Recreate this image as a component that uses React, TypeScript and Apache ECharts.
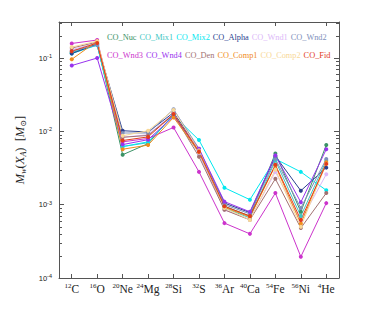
import React, { useEffect, useRef } from "react";
import * as echarts from "echarts";

const categories = ["12C", "16O", "20Ne", "24Mg", "28Si", "32S", "36Ar", "40Ca", "54Fe", "56Ni", "4He"];

const seriesNames = ["CO_Nuc", "CO_Mix1", "CO_Mix2", "CO_Alpha", "CO_Wnd1", "CO_Wnd2", "CO_Wnd3", "CO_Wnd4", "CO_Den", "CO_Comp1", "CO_Comp2", "CO_Fid"];
const seriesColors = ["#3a9366", "#3fc7c4", "#00e8f0", "#2b3f8f", "#dcb8f8", "#8090bb", "#cc33cc", "#9933ee", "#a27272", "#f08c1c", "#f8d898", "#e23c1c"];

const nuc = [0.118, 0.155, 0.0048, 0.0068, 0.017, 0.0052, 0.00095, 0.0007, 0.005, 0.0008, 0.0065];
const mix1 = [0.12, 0.15, 0.0062, 0.007, 0.017, 0.005, 0.0009, 0.00066, 0.004, 0.0007, 0.004];
const mix2 = [0.115, 0.15, 0.0062, 0.0072, 0.0165, 0.0076, 0.0017, 0.00117, 0.0042, 0.0028, 0.00157];
const alpha = [0.115, 0.155, 0.0102, 0.0098, 0.018, 0.0056, 0.00105, 0.00078, 0.0046, 0.00155, 0.0032];
const wnd1 = [0.13, 0.16, 0.0083, 0.009, 0.0175, 0.005, 0.00085, 0.00063, 0.0028, 0.0006, 0.0026];
const wnd2 = [0.125, 0.15, 0.0095, 0.0095, 0.02, 0.0058, 0.001, 0.00075, 0.0042, 0.0009, 0.0042];
const wnd3 = [0.158, 0.176, 0.0072, 0.008, 0.0113, 0.0028, 0.00056, 0.0004, 0.00144, 0.000195, 0.00105];
const wnd4 = [0.079, 0.1, 0.0066, 0.0077, 0.016, 0.0058, 0.0011, 0.0008, 0.0047, 0.00108, 0.0057];
const den = [0.137, 0.165, 0.0083, 0.0088, 0.017, 0.0045, 0.00085, 0.00062, 0.00225, 0.00048, 0.00144];
const comp1 = [0.096, 0.17, 0.0057, 0.0065, 0.0155, 0.0052, 0.00092, 0.00068, 0.0034, 0.00055, 0.0038];
const comp2 = [0.141, 0.17, 0.0087, 0.0102, 0.0195, 0.0055, 0.0009, 0.00062, 0.003, 0.0005, 0.0036];
const fid = [0.124, 0.16, 0.0075, 0.0084, 0.0172, 0.0053, 0.00095, 0.0007, 0.0035, 0.00062, 0.0036];

const seriesValues = [nuc, mix1, mix2, alpha, wnd1, wnd2, wnd3, wnd4, den, comp1, comp2, fid];

const yMin = 1e-4;
const yMax = 0.31;
const minorTickValues = [
  2e-4, 3e-4, 4e-4, 5e-4, 6e-4, 7e-4, 8e-4, 9e-4,
  2e-3, 3e-3, 4e-3, 5e-3, 6e-3, 7e-3, 8e-3, 9e-3,
  2e-2, 3e-2, 4e-2, 5e-2, 6e-2, 7e-2, 8e-2, 9e-2,
  2e-1, 3e-1,
];

const AXIS_COLOR = "#555";
const SERIF = "'Liberation Serif', 'DejaVu Serif', serif";
const SANS = "'Liberation Sans', 'DejaVu Sans', sans-serif";

export default function App() {
  const ref = useRef<HTMLDivElement>(null);
  useEffect(() => {
    if (!ref.current) return;
    const chart = echarts.init(ref.current, undefined, { renderer: "svg" });

    const legendItem = (i: number) => ({
      name: seriesNames[i],
      textStyle: { color: seriesColors[i] },
    });

    const lineSeries = seriesNames.map((name, i) => ({
      name,
      type: "line",
      data: seriesValues[i],
      symbol: "circle",
      symbolSize: 4,
      showSymbol: true,
      lineStyle: { width: 1, color: seriesColors[i] },
      itemStyle: { color: seriesColors[i] },
      z: 3,
    }));

    const legendBase = {
      left: 101,
      padding: 0,
      itemWidth: 0,
      itemHeight: 0,
      itemGap: -3,
      selectedMode: false,
      textStyle: { fontFamily: SERIF, fontSize: 8.3 },
    };

    const option: any = {
      animation: false,
      grid: { left: 59, right: 35, top: 22, bottom: 35 },
      legend: [
        { ...legendBase, data: [0, 1, 2, 3, 4, 5].map(legendItem), top: 33 },
        { ...legendBase, data: [6, 7, 8, 9, 10, 11].map(legendItem), top: 51 },
      ],
      xAxis: [
        {
          type: "category",
          data: categories,
          boundaryGap: true,
          axisLine: { show: true, lineStyle: { color: AXIS_COLOR, width: 1 } },
          axisTick: { show: true, inside: true, alignWithLabel: true, length: 4, lineStyle: { color: AXIS_COLOR } },
          axisLabel: {
            margin: 4,
            interval: 0,
            formatter: (v: string) => {
              const m = v.match(/^(\d+)(\D+)$/);
              return m ? `{sup|${m[1]}}{el|${m[2]}}` : v;
            },
            rich: {
              sup: { fontFamily: SERIF, fontSize: 7, color: "#222", verticalAlign: "top", lineHeight: 13 },
              el: { fontFamily: SERIF, fontSize: 11.5, color: "#222", lineHeight: 13 },
            },
          },
          splitLine: { show: false },
        },
        {
          type: "category",
          data: categories,
          position: "top",
          boundaryGap: true,
          axisLine: { show: true, lineStyle: { color: AXIS_COLOR, width: 1 } },
          axisTick: { show: true, inside: true, alignWithLabel: true, length: 4, lineStyle: { color: AXIS_COLOR } },
          axisLabel: { show: false },
          splitLine: { show: false },
        },
      ],
      yAxis: [
        {
          type: "log",
          logBase: 10,
          min: yMin,
          max: yMax,
          axisLine: { show: true, lineStyle: { color: AXIS_COLOR, width: 1 } },
          axisTick: { show: true, inside: true, length: 5, lineStyle: { color: AXIS_COLOR } },
          splitLine: { show: false },
          axisLabel: {
            margin: 7,
            showMaxLabel: false,
            formatter: (v: number) => {
              const e = Math.round(Math.log10(v));
              return `{b|10}{s|${e}}`;
            },
            rich: {
              b: { fontFamily: SANS, fontSize: 7.5, color: "#222", lineHeight: 10 },
              s: { fontFamily: SANS, fontSize: 5.5, color: "#222", verticalAlign: "top", lineHeight: 10 },
            },
          },
          name: "{i|M}{s|w}{n|(}{i|X}{s|A}{n|)  [}{i|M}{s|⊙}{n|]}",
          nameLocation: "middle",
          nameGap: 24,
          nameTextStyle: {
            rich: {
              i: { fontFamily: SERIF, fontStyle: "italic", fontSize: 12.5, color: "#222", lineHeight: 16 },
              n: { fontFamily: SERIF, fontSize: 12.5, color: "#222", lineHeight: 16 },
              s: { fontFamily: SERIF, fontStyle: "italic", fontSize: 8, color: "#222", verticalAlign: "bottom", lineHeight: 16 },
            },
          },
        },
        {
          type: "log",
          logBase: 10,
          min: yMin,
          max: yMax,
          position: "right",
          axisLine: { show: true, lineStyle: { color: AXIS_COLOR, width: 1 } },
          axisTick: { show: true, inside: true, length: 5, lineStyle: { color: AXIS_COLOR } },
          axisLabel: { show: false },
          splitLine: { show: false },
        },
      ],
      series: [
        {
          type: "custom",
          silent: true,
          z: 1,
          data: minorTickValues.map((v) => [0, v]),
          renderItem: (params: any, api: any) => {
            const y = Math.round(api.coord([0, api.value(1)])[1]) + 0.5;
            const cs = params.coordSys;
            return {
              type: "group",
              children: [
                { type: "line", shape: { x1: cs.x, y1: y, x2: cs.x + 3, y2: y }, style: { stroke: AXIS_COLOR, lineWidth: 1 } },
                { type: "line", shape: { x1: cs.x + cs.width - 3, y1: y, x2: cs.x + cs.width, y2: y }, style: { stroke: AXIS_COLOR, lineWidth: 1 } },
              ],
            };
          },
        },
        ...lineSeries,
      ],
    };

    chart.setOption(option);
    return () => chart.dispose();
  }, []);
  return <div ref={ref} style={{ width: 374, height: 313, position: "absolute", left: 0, top: 0 }} />;
}
